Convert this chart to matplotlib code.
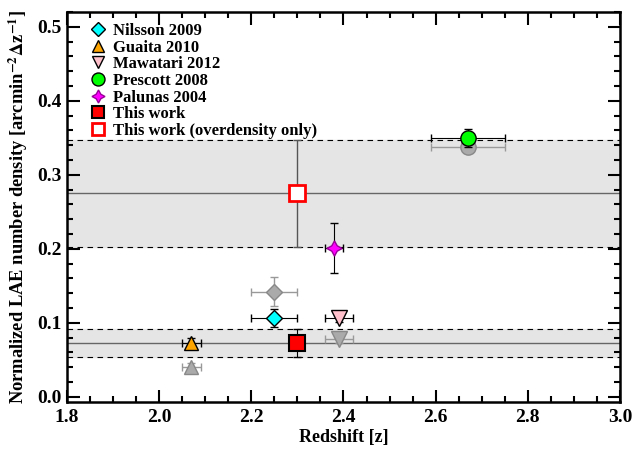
import matplotlib
matplotlib.use("Agg")
import matplotlib.pyplot as plt
from matplotlib.ticker import MultipleLocator, FormatStrFormatter

plt.rcParams["font.family"] = ["Liberation Serif", "DejaVu Serif"]
plt.rcParams["font.weight"] = "bold"
plt.rcParams["mathtext.fontset"] = "stix"

# Literature points (colored) and their gray counterparts
labels = ["Nilsson 2009", "Guaita 2010", "Mawatari 2012", "Prescott 2008", "Palunas 2004"]
z = [2.25, 2.07, 2.39, 2.67, 2.38]
zerr = [0.05, 0.02, 0.03, 0.08, 0.02]
dens = [0.106, 0.073, 0.107, 0.350, 0.201]
dens_err = [0.012, 0.006, 0.006, 0.012, 0.034]
markers = ["D", "^", "v", "o", (4, 1, 0)]
colors = ["cyan", "orange", "pink", "lime", "magenta"]
sizes = [8, 10, 11, 11, 11]

gray_z = [2.25, 2.07, 2.39, 2.67]
gray_zerr = [0.05, 0.02, 0.03, 0.08]
gray_dens = [0.142, 0.040, 0.078, 0.338]
gray_err = [0.020, 0.005, 0.005, 0.008]

# This work
work_z = 2.30
work_dens = 0.072
work_err = 0.019
over_dens = 0.275
over_err = 0.072

fig = plt.figure(figsize=(6.32, 4.49), dpi=100)
ax = fig.add_axes([0.106, 0.105, 0.875, 0.868])

# bands
for c, e in [(over_dens, over_err), (work_dens, work_err)]:
    ax.axhspan(c - e, c + e, color="#e5e5e5", zorder=0)
    ax.axhline(c, color="#666666", lw=1.0, zorder=1)
    ax.axhline(c - e, color="black", ls=(0, (5, 4)), lw=0.8, zorder=1)
    ax.axhline(c + e, color="black", ls=(0, (5, 4)), lw=0.8, zorder=1)

for i in range(len(gray_z)):
    ax.errorbar(gray_z[i], gray_dens[i], xerr=gray_zerr[i], yerr=gray_err[i],
                fmt=markers[i], color="#999999", mfc="#aaaaaa", mec="#888888",
                ms=sizes[i], capsize=3, elinewidth=1, zorder=2)

edge = ["black", "black", "black", "black", "#990099"]
for i in range(len(z)):
    ax.errorbar(z[i], dens[i], xerr=zerr[i], yerr=dens_err[i], fmt="none",
                ecolor="black", capsize=3, elinewidth=0.8, zorder=3)
    ax.plot(z[i], dens[i], marker=markers[i], ls="none", mfc=colors[i],
            mec=edge[i], ms=sizes[i], mew=1, zorder=3, label=labels[i])

ax.errorbar(work_z, work_dens, yerr=work_err, fmt="none", ecolor="black",
            capsize=3, elinewidth=0.8, zorder=4)
ax.plot(work_z, work_dens, "s", mfc="red", mec="black", ms=11, mew=1.5,
        zorder=4, label="This work")
ax.errorbar(work_z, over_dens, yerr=over_err, fmt="none", ecolor="#555555",
            capsize=3, elinewidth=1, zorder=4)
ax.plot(work_z, over_dens, "s", mfc="white", mec="red", ms=11, mew=2,
        zorder=4, label="This work (overdensity only)")

ax.set_xlim(1.8, 3.0)
ax.set_ylim(-0.007, 0.52)
ax.xaxis.set_major_locator(MultipleLocator(0.2))
ax.xaxis.set_minor_locator(MultipleLocator(0.05))
ax.yaxis.set_major_locator(MultipleLocator(0.1))
ax.yaxis.set_minor_locator(MultipleLocator(0.02))
ax.xaxis.set_major_formatter(FormatStrFormatter("%.1f"))
ax.yaxis.set_major_formatter(FormatStrFormatter("%.1f"))
ax.tick_params(which="both", direction="in", top=True, right=True, width=1.5,
               labelsize=14)
ax.tick_params(which="major", length=9)
ax.tick_params(which="minor", length=4)
ax.tick_params(axis="x", which="major", pad=5)
ax.tick_params(axis="y", which="major", pad=4)
for s in ax.spines.values():
    s.set_linewidth(1.8)

ax.set_xlabel("Redshift [z]", fontsize=13, fontweight="bold", labelpad=2)
ax.set_ylabel(r"Normalized LAE number density [arcmin$^{-2}\Delta$z$^{-1}$]",
              fontsize=13.3, fontweight="bold", labelpad=5)

ax.legend(loc="upper left", bbox_to_anchor=(0.016, 1.0), frameon=False,
          fontsize=12, handletextpad=0.15, labelspacing=0.04,
          borderaxespad=0.25, handlelength=1.4, markerscale=0.85)

fig.savefig("out.png", dpi=100)
